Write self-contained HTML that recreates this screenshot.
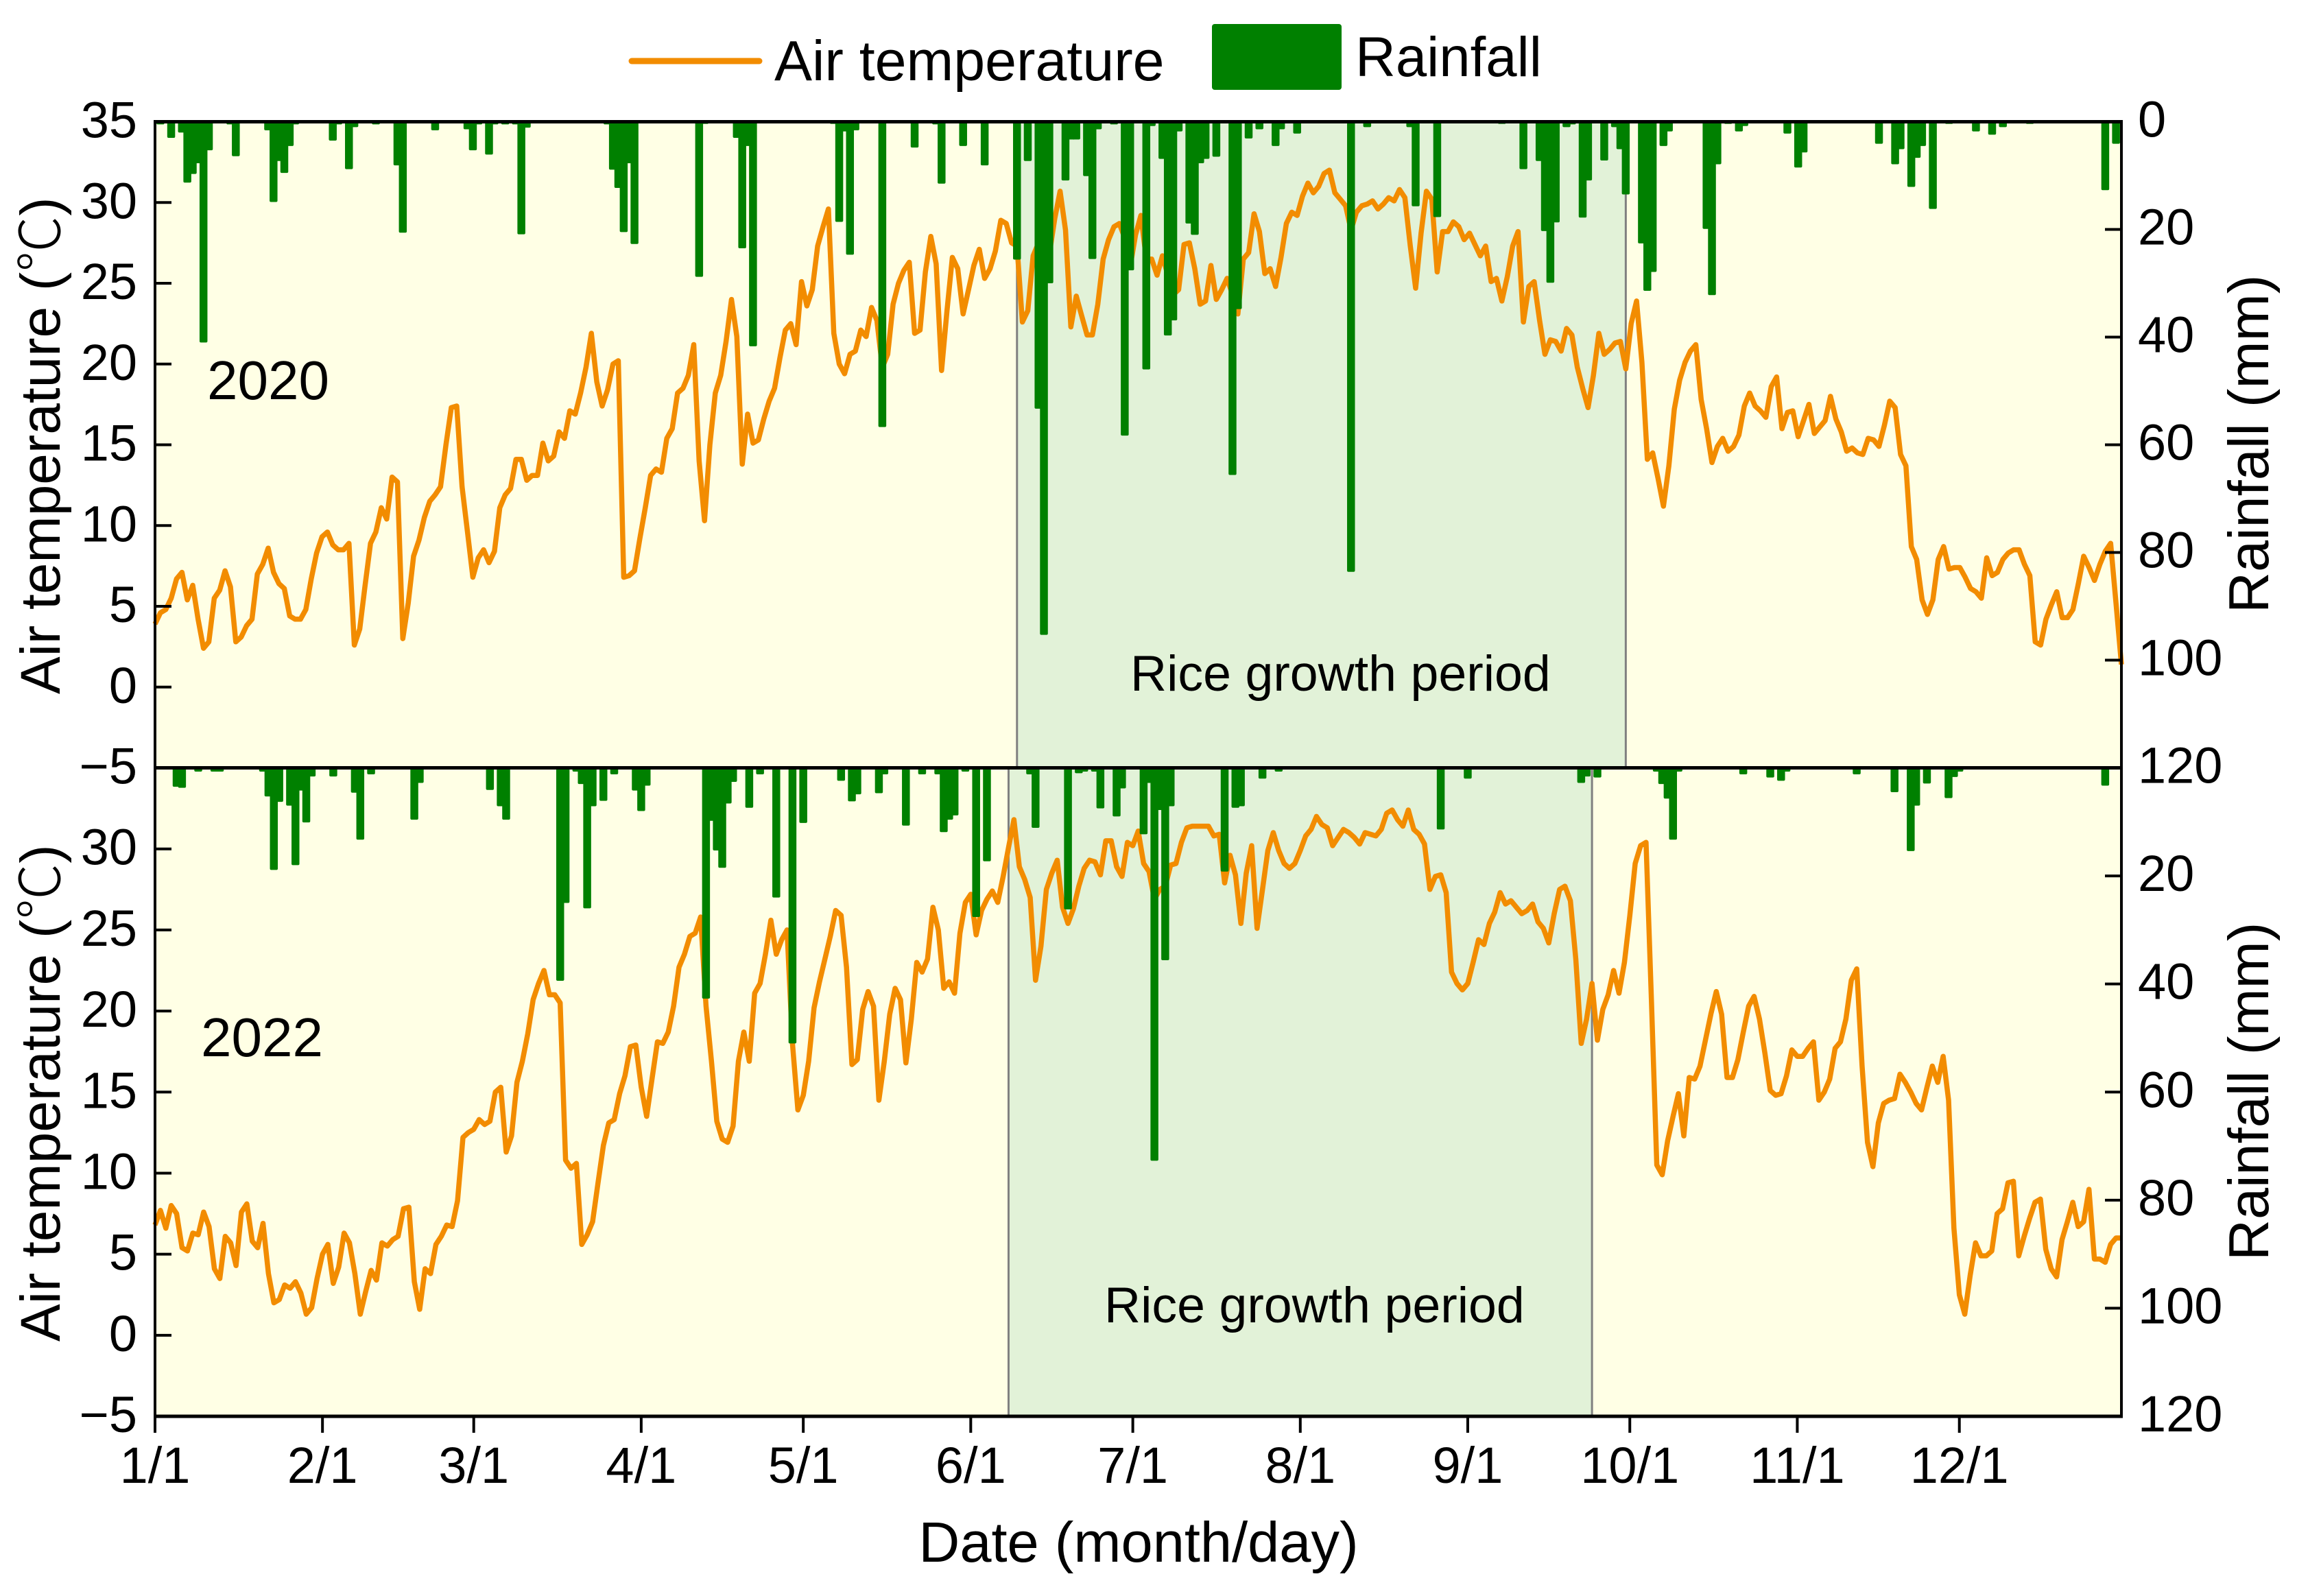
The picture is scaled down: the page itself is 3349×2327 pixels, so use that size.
<!DOCTYPE html>
<html lang="en">
<head>
<meta charset="utf-8">
<title>Air temperature and rainfall 2020 and 2022</title>
<style>
html,body{margin:0;padding:0;background:#fff;}
svg{display:block;}
text{font-family:"Liberation Sans","Noto Sans CJK SC",sans-serif;fill:#000;}
</style>
</head>
<body>
<svg id="chart" xmlns="http://www.w3.org/2000/svg" width="3349" height="2327" viewBox="0 0 3349 2327">
  <rect x="0" y="0" width="3349" height="2327" fill="#ffffff"/>
  <g id="plots"></g>
  <g>
    <line x1="921" y1="89" x2="1107" y2="89" stroke="#f28c00" stroke-width="9" stroke-linecap="round"/>
    <text x="1129" y="117" font-size="82.5">Air temperature</text>
    <rect x="1767" y="35" width="189" height="96" rx="4" fill="#008000"/>
    <text x="1976" y="111" font-size="81.5">Rainfall</text>
  </g>
  <text x="302" y="582" font-size="80">2020</text>
  <text x="293" y="1540" font-size="80">2022</text>
  <text x="1648" y="1007" font-size="73.5">Rice growth period</text>
  <text x="1610" y="1928" font-size="73.5">Rice growth period</text>
  <text transform="translate(87 1012) rotate(-90)" font-size="82">Air temperature (<tspan style="font-family:'Noto Sans CJK SC',sans-serif;font-weight:300">℃</tspan>)</text>
  <text transform="translate(87 1956) rotate(-90)" font-size="82">Air temperature (<tspan style="font-family:'Noto Sans CJK SC',sans-serif;font-weight:300">℃</tspan>)</text>
  <text transform="translate(3307 894) rotate(-90)" font-size="83">Rainfall (mm)</text>
  <text transform="translate(3307 1838) rotate(-90)" font-size="83">Rainfall (mm)</text>
  <text x="1660" y="2277" font-size="83" text-anchor="middle">Date (month/day)</text>
</svg>
<script>
const temperature2020 = [
3.9,4.6,4.8,5.5,6.7,7.1,5.4,6.3,4.2,2.4,
2.8,5.5,6.0,7.2,6.2,2.8,3.1,3.8,4.2,7.0,
7.6,8.6,7.1,6.4,6.1,4.4,4.2,4.2,4.8,6.7,
8.3,9.3,9.6,8.8,8.5,8.5,8.9,2.6,3.6,6.3,
8.9,9.6,11.1,10.4,13.0,12.7,3.0,5.2,8.1,9.1,
10.5,11.5,11.9,12.4,15.0,17.3,17.4,12.4,9.6,6.8,
8.0,8.5,7.7,8.4,11.1,11.9,12.3,14.1,14.1,12.8,
13.1,13.1,15.1,14.0,14.3,15.8,15.4,17.1,16.9,18.2,
19.8,21.9,18.9,17.4,18.4,20.0,20.2,6.8,6.9,7.2,
9.2,11.1,13.1,13.5,13.3,15.4,16.0,18.2,18.5,19.3,
21.2,14.0,10.3,15.0,18.2,19.3,21.4,24.0,21.7,13.8,
16.9,15.1,15.3,16.6,17.7,18.5,20.4,22.1,22.5,21.2,
25.1,23.6,24.6,27.3,28.5,29.6,21.9,20.0,19.4,20.6,
20.8,22.1,21.7,23.5,22.7,19.8,20.6,23.7,25.0,25.8,
26.3,21.9,22.1,25.7,27.9,26.2,19.6,23.3,26.6,25.9,
23.1,24.6,26.1,27.1,25.3,25.9,27.0,28.9,28.7,27.5,
27.3,22.6,23.3,26.7,27.5,26.3,26.8,29.0,30.7,28.3,
22.3,24.2,23.0,21.8,21.8,23.7,26.5,27.7,28.5,28.7,
27.8,26.0,28.0,29.2,26.5,26.5,25.5,26.7,25.5,24.3,
24.6,27.4,27.5,25.9,23.7,23.9,26.1,24.0,24.6,25.3,
24.3,23.1,26.5,26.9,29.3,28.2,25.6,25.9,24.8,26.6,
28.7,29.4,29.2,30.4,31.2,30.6,31.0,31.8,32.0,30.6,
30.2,29.8,28.3,29.4,29.8,29.9,30.1,29.6,29.9,30.3,
30.1,30.8,30.3,27.3,24.7,28.1,30.7,30.2,25.7,28.2,
28.2,28.8,28.5,27.7,28.1,27.4,26.7,27.3,25.1,25.3,
23.9,25.4,27.3,28.2,22.6,24.8,25.1,22.7,20.6,21.5,
21.4,20.8,22.2,21.8,19.8,18.5,17.3,19.3,21.9,20.6,
20.9,21.3,21.4,19.7,22.5,23.9,20.1,14.1,14.5,12.9,
11.2,13.7,17.2,19.0,20.1,20.8,21.2,17.8,16.0,13.9,
14.9,15.4,14.6,14.9,15.6,17.4,18.2,17.4,17.1,16.7,
18.6,19.2,16.0,17.0,17.1,15.5,16.5,17.5,15.7,16.1,
16.5,18.0,16.6,15.8,14.6,14.8,14.5,14.4,15.4,15.3,
14.9,16.2,17.7,17.3,14.4,13.7,8.7,7.9,5.4,4.5,
5.4,7.9,8.7,7.3,7.4,7.4,6.8,6.1,5.9,5.5,
8.0,6.9,7.1,7.9,8.3,8.5,8.5,7.6,6.9,2.8,
2.6,4.2,5.1,5.9,4.3,4.3,4.8,6.4,8.1,7.4,
6.6,7.6,8.4,8.9,5.2,1.4
];
const temperature2022 = [
6.8,7.7,6.6,8.0,7.5,5.4,5.2,6.3,6.2,7.6,
6.7,4.1,3.5,6.1,5.7,4.3,7.6,8.1,5.8,5.4,
6.9,3.8,2.0,2.2,3.1,2.9,3.3,2.6,1.3,1.7,
3.5,5.0,5.6,3.2,4.2,6.3,5.7,3.8,1.3,2.7,
4.0,3.4,5.7,5.5,5.9,6.1,7.8,7.9,3.3,1.6,
4.1,3.8,5.6,6.1,6.8,6.7,8.3,12.2,12.5,12.7,
13.3,13.0,13.2,15.0,15.3,11.3,12.3,15.6,16.9,18.6,
20.7,21.7,22.5,21.0,21.0,20.5,10.8,10.3,10.6,5.6,
6.2,7.0,9.4,11.7,13.1,13.3,14.9,16.0,17.8,17.9,
15.3,13.5,15.8,18.1,18.0,18.7,20.3,22.7,23.5,24.6,
24.8,25.8,20.3,16.9,13.2,12.1,11.9,12.9,16.9,18.7,
16.9,21.1,21.7,23.5,25.6,23.5,24.4,25.0,18.0,13.9,
14.8,16.9,20.2,21.8,23.2,24.6,26.2,25.9,22.7,16.7,
17.0,20.1,21.2,20.3,14.5,16.9,19.8,21.4,20.7,16.8,
19.5,23.0,22.4,23.2,26.4,25.0,21.4,21.8,21.1,24.8,
26.7,27.2,24.7,26.2,26.9,27.4,26.7,28.3,30.1,31.8,
28.9,28.1,27.0,21.9,24.0,27.5,28.5,29.3,26.4,25.4,
26.3,27.7,28.8,29.3,29.2,28.4,30.5,30.5,28.9,28.3,
30.4,30.2,31.1,29.1,28.6,26.9,27.5,27.7,29.0,29.1,
30.4,31.3,31.4,31.4,31.4,31.4,30.8,30.9,27.9,29.6,
28.4,25.4,28.5,30.2,25.1,27.5,29.9,31.0,29.9,29.1,
28.8,29.1,29.9,30.8,31.2,32.0,31.5,31.3,30.2,30.7,
31.2,31.0,30.7,30.3,31.0,30.9,30.8,31.2,32.2,32.4,
31.8,31.4,32.4,31.2,30.9,30.3,27.5,28.3,28.4,27.3,
22.4,21.7,21.3,21.7,23.0,24.4,24.1,25.4,26.1,27.3,
26.6,26.8,26.4,26.0,26.2,26.6,25.5,25.1,24.2,26.0,
27.5,27.7,26.8,23.2,18.0,19.5,21.7,18.2,20.1,21.0,
22.5,21.1,23.0,25.9,29.1,30.2,30.4,20.6,10.5,9.9,
12.0,13.5,14.9,12.3,15.9,15.8,16.6,18.2,19.8,21.2,
19.8,15.9,15.9,17.0,18.7,20.3,20.9,19.5,17.4,15.1,
14.8,14.9,16.0,17.6,17.2,17.2,17.7,18.1,14.5,15.0,
15.8,17.7,18.1,19.5,21.9,22.6,16.6,11.9,10.4,13.1,
14.3,14.5,14.6,16.1,15.6,15.0,14.3,13.9,15.3,16.6,
15.6,17.2,14.5,6.6,2.5,1.3,3.7,5.7,4.9,4.9,
5.2,7.5,7.8,9.4,9.5,4.9,6.1,7.2,8.2,8.4,
5.3,4.1,3.6,5.9,7.0,8.2,6.7,7.0,9.0,4.7,
4.7,4.5,5.6,6.0,6.0
];
const rainDays2020 = [1,3,5,6,7,8,9,10,14,15,21,22,23,24,25,26,33,34,36,37,41,45,46,52,58,59,60,62,63,65,67,68,69,84,85,86,87,88,89,101,102,108,109,110,111,126,127,128,129,130,135,141,145,146,150,154,160,162,164,165,166,169,170,171,173,174,175,178,180,181,184,185,187,188,189,190,192,193,194,195,197,200,201,203,205,208,209,212,222,225,233,234,238,250,254,257,258,259,260,262,263,265,266,269,271,272,273,276,277,278,280,281,288,289,290,292,294,295,303,305,306,320,323,324,326,327,328,330,333,338,341,343,348,362,364];
const rainMm2020 = [0.5,3,2,11.3,9.7,7.7,41,5.3,0.5,6.4,1.6,14.9,7.3,9.5,4.5,0.5,3.5,0.5,8.8,1,0.5,8.1,20.6,1.6,1.4,5.3,0.5,6.1,0.5,0.5,0.5,20.9,1.1,0.5,8.9,12.3,20.5,7.7,22.7,28.8,0.4,3,23.5,4.5,41.7,0.4,18.6,1.8,24.7,1.6,56.7,4.8,0.5,11.5,4.5,8.1,25.6,7.3,53.3,95.3,30,10.9,3.3,3.3,10.1,25.5,1.4,0.5,58.3,27.6,46,0.8,6.9,39.7,36.9,1.8,18.9,21,7.7,6.9,6.5,65.6,34.8,3.1,1.4,4.5,1.4,2.2,83.6,1,1,15.7,17.7,0.4,8.8,7.3,20.3,29.9,18.7,1,0.5,17.8,10.9,7.2,1,5.1,13.5,22.6,31.4,27.9,4.5,1.8,19.9,32.2,7.9,0.4,1.8,0.8,2.2,8.5,5.7,4.1,7.9,5.1,12.1,6.7,4.5,16.2,0.4,1.8,2.4,1,0.4,12.7,4.1];
const rainDays2022 = [4,5,8,11,12,20,21,22,23,25,26,27,28,29,33,37,38,40,48,49,62,64,65,75,76,78,79,80,81,83,85,89,90,91,102,103,104,105,106,107,110,112,115,118,120,127,129,130,134,135,139,142,145,146,147,148,150,152,154,162,163,169,171,172,174,175,178,179,183,184,185,186,187,188,198,200,201,205,208,238,243,264,265,267,278,279,280,281,282,294,299,301,302,315,322,325,326,328,332,333,334,361];
const rainMm2022 = [3.5,3.7,0.7,0.7,0.7,0.7,5.3,18.9,6.3,7,18,4.2,10.1,1.6,1.6,4.6,13.3,1.2,9.6,2.8,4.1,7.1,9.6,39.4,25,0.7,3,26,7.1,6.1,1.2,4.2,8,3.3,42.7,9.8,15.3,18.5,6.6,2.6,7.4,1.2,24,51,10.2,2.4,6.2,4.9,4.7,1.2,10.7,1.2,1.2,11.9,9.6,8.8,0.7,27.6,17.3,1.2,11.1,26.2,1,0.7,0.7,7.5,9,3.8,12.3,2.8,72.7,7.8,35.6,7.1,19.2,7.4,7.1,2,0.7,11.4,2,2.8,1.6,1.8,0.7,3,5.7,13.3,0.7,1.2,1.8,2.4,0.7,1.2,4.5,15.4,7,2.9,5.6,1.7,0.7,3.3];
const growthPeriod2020 = [160, 273];
const growthPeriod2022 = [158, 266];
const temperatureTicks = [-5,0,5,10,15,20,25,30,35];
const rainfallTicks = [0,20,40,60,80,100,120];
const monthLabels = ['1/1','2/1','3/1','4/1','5/1','6/1','7/1','8/1','9/1','10/1','11/1','12/1'];
const monthStartIndex = [0,31,59,90,120,151,181,212,243,273,304,334];

const SVGNS = 'http://www.w3.org/2000/svg';
const plotLeft = 226;
const plotRight = 3093;
const plotsGroup = document.getElementById('plots');

function make(tag, attrs, parent) {
  const el = document.createElementNS(SVGNS, tag);
  for (const k in attrs) el.setAttribute(k, attrs[k]);
  parent.appendChild(el);
  return el;
}

function drawPanel(year, top, bottom, temps, rainDays, rainMm, period, showXAxis) {
  const count = temps.length;
  const xScale = function (i) { return plotLeft + i * (plotRight - plotLeft) / (count - 1); };
  const tempY = function (t) { return bottom - (t + 5) / 40 * (bottom - top); };
  const rainY = function (mm) { return top + mm / 120 * (bottom - top); };

  const group = make('g', {}, plotsGroup);
  
  

  const bg = make('rect', {x: plotLeft, y: top, width: plotRight - plotLeft, height: bottom - top, fill: '#ffffe5'}, group);
  
  

  const band = make('rect', {x: xScale(period[0]), y: top, width: xScale(period[1]) - xScale(period[0]), height: bottom - top, fill: '#e2f2d8'}, group);
  
  

  period.forEach(function (p) {
    const edge = make('line', {x1: xScale(p), x2: xScale(p), y1: top, y2: bottom, stroke: '#808080', 'stroke-width': 3}, group);
    
    
  });

  const pts = temps.map(function (t, i) { return xScale(i).toFixed(1) + ',' + tempY(t).toFixed(1); }).join(' ');
  const line = make('polyline', {points: pts, fill: 'none', stroke: '#f28c00', 'stroke-width': 7.5, 'stroke-linejoin': 'round'}, group);
  
  

  rainDays.forEach(function (d, k) {
    const bar = make('rect', {x: xScale(d) - 5.75, y: top, width: 11.5, height: rainY(rainMm[k]) - top, fill: '#008000', rx: 2}, group);
    
    
  });

  const hLines = [top, bottom];
  hLines.forEach(function (y) {
    const ax = make('line', {x1: plotLeft - 2, x2: plotRight + 2, y1: y, y2: y, stroke: '#000', 'stroke-width': 5}, group);
    
    
  });
  const leftAxis = make('line', {x1: plotLeft, x2: plotLeft, y1: top, y2: bottom, stroke: '#000', 'stroke-width': 4}, group);
  
  
  const rightAxis = make('line', {x1: plotRight, x2: plotRight, y1: top, y2: bottom, stroke: '#000', 'stroke-width': 4}, group);
  
  

  temperatureTicks.forEach(function (t) {
    const y = tempY(t);
    if (t > -5 && t < 35) {
      const tick = make('line', {x1: plotLeft, x2: plotLeft + 24, y1: y, y2: y, stroke: '#000', 'stroke-width': 4}, group);
      
      
    }
    if (t === 35 && top > 500) return;
    const lab = make('text', {x: 200, y: y + 23, 'font-size': 74, 'text-anchor': 'end'}, group);
    
    
    lab.textContent = t < 0 ? '\u2212' + Math.abs(t) : String(t);
  });

  rainfallTicks.forEach(function (mm) {
    const y = rainY(mm);
    if (mm > 0 && mm < 120) {
      const tick = make('line', {x1: plotRight - 24, x2: plotRight, y1: y, y2: y, stroke: '#000', 'stroke-width': 4}, group);
      
      
    }
    if (mm === 0 && top > 500) return;
    const lab = make('text', {x: 3117, y: y + 22, 'font-size': 74}, group);
    
    
    lab.textContent = String(mm);
  });

  if (showXAxis) {
    monthStartIndex.forEach(function (idx, m) {
      const x = xScale(idx);
      const tick = make('line', {x1: x, x2: x, y1: bottom, y2: bottom + 24, stroke: '#000', 'stroke-width': 4}, group);
      
      
      const lab = make('text', {x: x, y: 2162, 'font-size': 74, 'text-anchor': 'middle'}, group);
      
      
      lab.textContent = monthLabels[m];
    });
  }
}

drawPanel(2020, 177.5, 1119.5, temperature2020, rainDays2020, rainMm2020, growthPeriod2020, false);
drawPanel(2022, 1119.5, 2065, temperature2022, rainDays2022, rainMm2022, growthPeriod2022, true);
</script>
</body>
</html>
